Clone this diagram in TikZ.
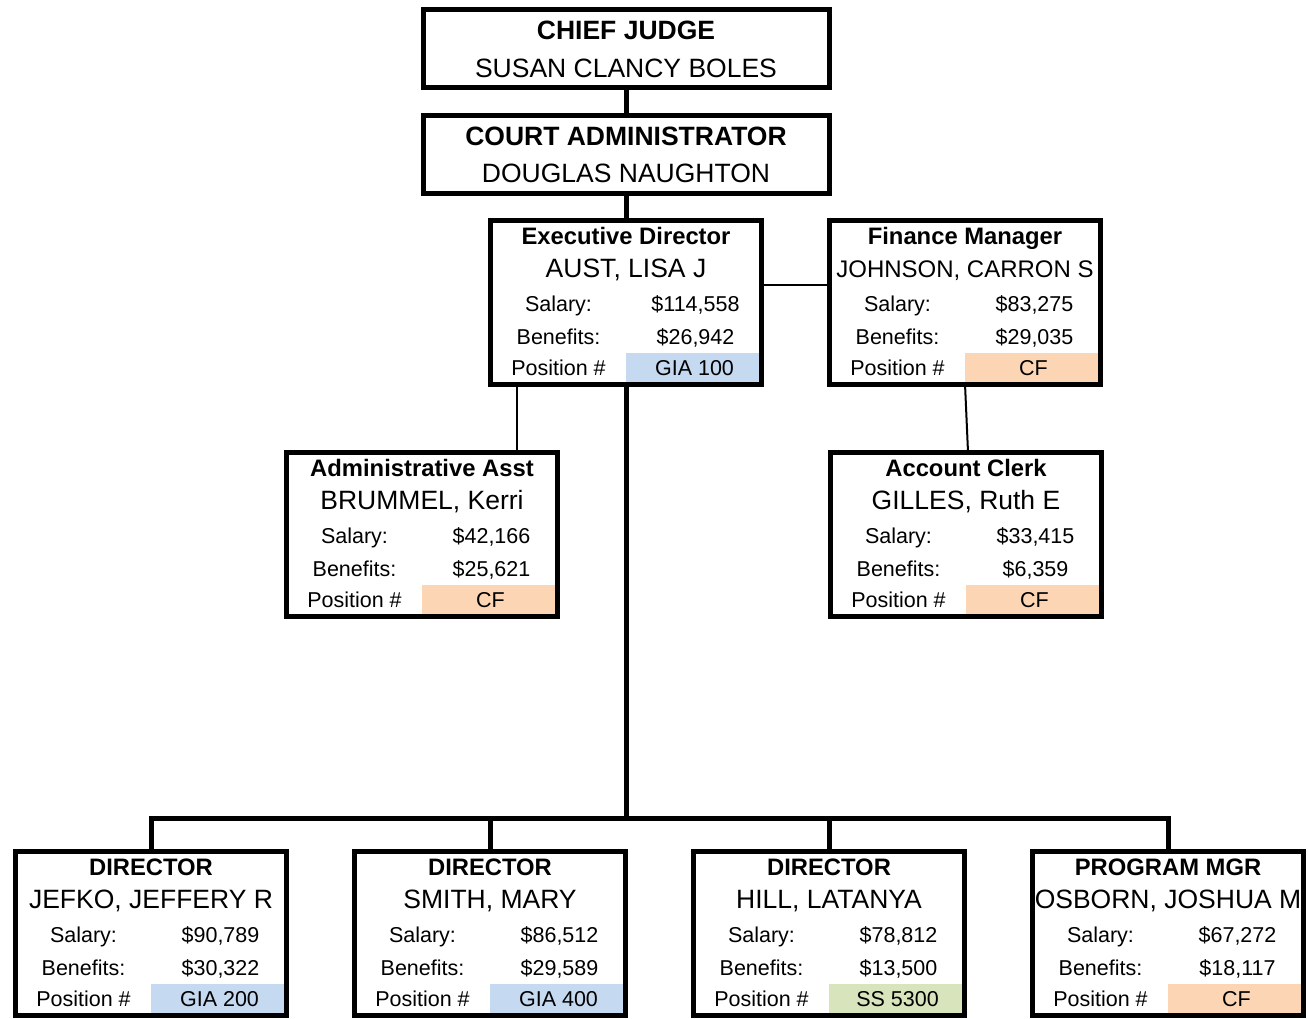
\documentclass[tikz,border=0pt]{standalone}
\usepackage{fontspec}
\setmainfont{Liberation Sans}
\usetikzlibrary{calc}
\definecolor{giablue}{HTML}{C5D9F1}
\definecolor{cforange}{HTML}{FCD5B4}
\definecolor{ssgreen}{HTML}{D8E4BC}
\tikzset{
 frame/.style={draw,line width=5pt,outer sep=0pt,inner sep=0pt},
 topbox/.style={frame,minimum width=406pt,minimum height=78pt},
 staffbox/.style={frame,minimum width=271pt,minimum height=164pt},
 bus/.style={line width=5pt},
 link/.style={line width=2pt},
 headtxt/.style={anchor=base,inner sep=0pt,font=\bfseries\fontsize{26.5}{30}\selectfont},
 headname/.style={anchor=base,inner sep=0pt,font=\fontsize{26.5}{30}\selectfont},
 ttl/.style={anchor=base,inner sep=0pt,font=\bfseries\fontsize{23.8}{27}\selectfont},
 who/.style={anchor=base,inner sep=0pt,font=\fontsize{26.5}{30}\selectfont},
 row/.style={anchor=base,inner sep=0pt,font=\fontsize{21.5}{25}\selectfont}
}
% one staff box: name, centre, title, person, salary, benefits, position, colour
\newcommand{\staff}[8]{%
 \node[staffbox] (#1) at (#2) {};
 \fill[#8] ($(#1.north west)+(135,133)$) rectangle ($(#1.south east)+(-2.5,-2.5)$);
 \node[ttl] (#1-t) at ($(#1.north)+(0,24)$) {#3};
 \node[who] (#1-n) at ($(#1.north)+(0,57)$) {#4};
 \node[row] (#1-sl) at ($(#1.north west)+(68,91)$) {Salary:};
 \node[row] (#1-sv) at ($(#1.north west)+(205,91)$) {#5};
 \node[row] (#1-bl) at ($(#1.north west)+(68,124)$) {Benefits:};
 \node[row] (#1-bv) at ($(#1.north west)+(205,124)$) {#6};
 \node[row] (#1-pl) at ($(#1.north west)+(68,155)$) {Position \#};
 \node[row] (#1-pv) at ($(#1.north west)+(204,155)$) {#7};
}
\begin{document}
\begin{tikzpicture}[x=1pt,y=-1pt]
 \useasboundingbox[fill=white] (0,0) rectangle (1308,1018);
 % top of the chart
 \node[topbox] (chief) at (626,48) {};
 \node[headtxt] (chief-t) at ($(chief.north)+(0,30)$) {CHIEF JUDGE};
 \node[headname] (chief-n) at ($(chief.north)+(0,68)$) {SUSAN CLANCY BOLES};
 \node[topbox] (admin) at (626,154) {};
 \node[headtxt] (admin-t) at ($(admin.north)+(0,30)$) {COURT ADMINISTRATOR};
 \node[headname] (admin-n) at ($(admin.north)+(0,67)$) {DOUGLAS NAUGHTON};
 % staff
 \staff{exec}{626,302}{Executive Director}{AUST, LISA J}{\$114,558}{\$26,942}{GIA 100}{giablue}
 \staff{fin}{965,302}{Finance Manager}{\fontsize{24}{28}\selectfont JOHNSON, CARRON S}{\$83,275}{\$29,035}{CF}{cforange}
 \staff{asst}{422,534}{Administrative Asst}{BRUMMEL, Kerri}{\$42,166}{\$25,621}{CF}{cforange}
 \staff{clerk}{966,534}{Account Clerk}{GILLES, Ruth E}{\$33,415}{\$6,359}{CF}{cforange}
 \staff{dirA}{151,933}{DIRECTOR}{JEFKO, JEFFERY R}{\$90,789}{\$30,322}{GIA 200}{giablue}
 \staff{dirB}{490,933}{DIRECTOR}{SMITH, MARY}{\$86,512}{\$29,589}{GIA 400}{giablue}
 \staff{dirC}{829,933}{DIRECTOR}{HILL, LATANYA}{\$78,812}{\$13,500}{SS 5300}{ssgreen}
 \staff{dirD}{1168,933}{PROGRAM MGR}{OSBORN, JOSHUA M}{\$67,272}{\$18,117}{CF}{cforange}
 % connectors
 \draw[bus] (chief) -- (admin);
 \draw[bus] (admin) -- (exec);
 \coordinate (hub) at (626,818);
 \draw[bus] (exec.south) -- (hub);
 \draw[bus] (dirA.north) |- (hub) -| (dirD.north);
 \draw[bus] (dirB.north) -- (dirB.north |- hub);
 \draw[bus] (dirC.north) -- (dirC.north |- hub);
 \draw[link] ([yshift=17pt]exec.east) -- ([yshift=17pt]fin.west);
 \draw[link] ([xshift=95pt]asst.north) -- ([xshift=95pt]asst.north |- exec.south);
 \draw[link] (fin.south) -- ([xshift=2pt]clerk.north);
\end{tikzpicture}
\end{document}
